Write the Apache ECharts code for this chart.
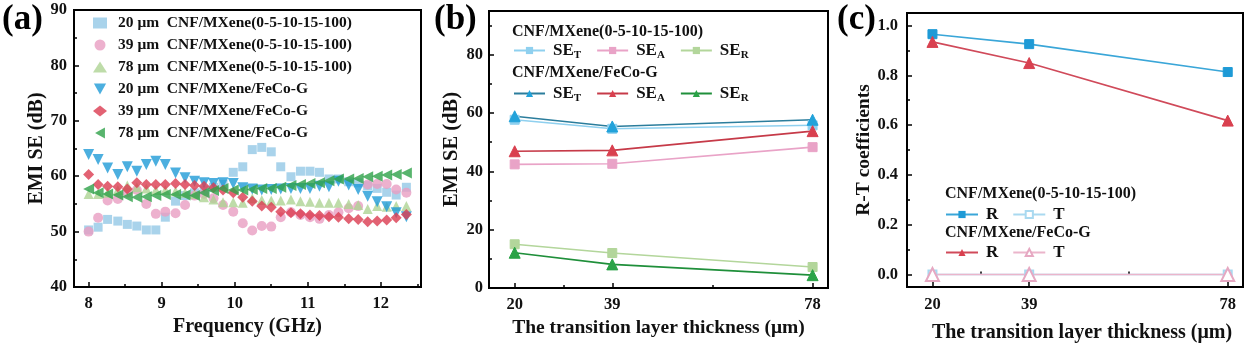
<!DOCTYPE html>
<html>
<head>
<meta charset="utf-8">
<script src="https://cdn.jsdelivr.net/npm/echarts@6/dist/echarts.min.js"></script>
<style>
  html, body { margin: 0; padding: 0; background: #fff; }
  #chart { width: 1256px; height: 352px; }
</style>
</head>
<body>
<div id="chart"></div>
<script>
// ---- data ----
const freq = [8.00, 8.13, 8.26, 8.40, 8.53, 8.66, 8.79, 8.92, 9.05, 9.19, 9.32, 9.45, 9.58, 9.71, 9.84, 9.98, 10.11,
  10.24, 10.37, 10.50, 10.63, 10.77, 10.90, 11.03, 11.16, 11.29, 11.42, 11.56, 11.69, 11.82, 11.95, 12.08, 12.21, 12.35];

const mx20 = [50.3, 50.8, 52.2, 51.9, 51.3, 51.0, 50.3, 50.3, 52.6, 55.5, 56.5, 57.0, 57.5, 58.0, 58.5, 60.7, 61.7,
  64.8, 65.2, 64.4, 61.7, 59.9, 60.9, 60.9, 60.7, 59.5, 59.5, 59.0, 58.8, 58.3, 57.8, 57.1, 56.6, 58.0];
const mx39 = [50.0, 52.5, 55.6, 55.9, 57.0, 57.5, 55.0, 53.2, 53.6, 53.3, 54.8, 56.5, 56.8, 56.0, 54.8, 53.6, 51.5,
  50.2, 51.0, 50.9, 52.6, 53.5, 53.0, 52.6, 52.3, 53.0, 53.5, 54.2, 54.6, 58.5, 58.6, 58.6, 57.6, 57.0];
const mx78 = [56.8, 56.8, 57.0, 57.5, 58.3, 58.0, 57.8, 57.5, 57.5, 57.3, 57.0, 56.8, 56.2, 55.8, 55.3, 55.3, 55.2,
  56.0, 55.7, 55.6, 55.6, 55.8, 55.5, 55.4, 55.2, 55.2, 55.2, 55.0, 54.8, 54.1, 54.6, 54.5, 54.6, 54.6];
const fe20 = [63.9, 63.0, 61.5, 60.3, 61.7, 60.9, 62.1, 62.7, 62.1, 60.6, 59.7, 59.1, 58.8, 58.7, 58.8, 58.7, 57.9,
  57.7, 57.5, 57.6, 57.7, 57.8, 57.8, 57.8, 58.2, 58.1, 59.1, 58.4, 57.6, 56.4, 55.4, 54.5, 53.4, 52.7];
const fe39 = [60.3, 58.5, 58.2, 58.1, 57.7, 58.8, 58.5, 58.5, 58.5, 58.7, 58.5, 58.3, 58.2, 57.9, 57.5, 57.0, 56.2,
  55.5, 54.6, 54.4, 53.6, 53.4, 53.2, 53.0, 52.9, 52.7, 52.6, 52.3, 52.2, 51.8, 51.9, 52.1, 52.5, 53.1];
const fe78 = [57.7, 57.0, 56.8, 56.6, 56.3, 56.2, 56.3, 56.5, 56.7, 56.7, 56.6, 56.5, 57.0, 57.4, 57.8, 57.5, 57.5,
  57.6, 57.8, 57.8, 58.0, 58.3, 58.5, 58.7, 58.8, 59.2, 59.5, 59.5, 59.6, 59.9, 60.0, 60.2, 60.3, 60.6];

const thickness = [20, 39, 78];
const mxSET = [57.7, 54.6, 55.8];
const mxSEA = [42.4, 42.6, 48.3];
const mxSER = [15.0, 12.0, 7.2];
const feSET = [58.9, 55.4, 57.7];
const feSEA = [46.9, 47.2, 53.8];
const feSER = [12.1, 8.1, 4.4];

const mxR = [0.965, 0.925, 0.813];
const mxT = [0.0, 0.0, 0.0];
const feR = [0.934, 0.849, 0.618];
const feT = [0.0, 0.0, 0.0];

const freqTicks = [8, 9, 10, 11, 12];
const freqMinor = [8.5, 9.5, 10.5, 11.5, 12.5];
const thickTicks = [20, 39, 78];
const thickMinor = [29.5, 58.5];
const seTicks = [0, 20, 40, 60, 80];
const seMinor = [10, 30, 50, 70, 90];
const rtTicks = [0, 0.2, 0.4, 0.6, 0.8, 1.0];
const rtMinor = [0.1, 0.3, 0.5, 0.7, 0.9];

// ---- styling helpers ----
const FONT = 'Liberation Serif';
const txt = (size) => ({ fontFamily: FONT, fontWeight: 'bold', fontSize: size, color: '#111' });
const pair = (xs, ys) => xs.map((x, i) => [x, ys[i]]);

const DOWN_TRI = 'path://M0,0L10,0L5,9Z';
const LEFT_TRI = 'path://M9,0L9,10L0,5Z';

function mainAxis(grid, min, max, ticks, margin, extra) {
  return Object.assign({
    gridIndex: grid, type: 'value', min: min, max: max,
    axisLine: { show: true, onZero: false, lineStyle: { color: '#000', width: 2 } },
    axisTick: { show: true, inside: true, length: 5, customValues: ticks, lineStyle: { color: '#000', width: 1.5 } },
    axisLabel: Object.assign({ customValues: ticks, margin: margin }, txt(16.5)),
    splitLine: { show: false }
  }, extra || {});
}
function minorAxis(grid, min, max, ticks, pos) {
  return {
    gridIndex: grid, type: 'value', min: min, max: max, position: pos, offset: 0,
    axisLine: { show: false },
    axisTick: { show: true, inside: true, length: 3, customValues: ticks, lineStyle: { color: '#000', width: 1.5 } },
    axisLabel: { show: false },
    splitLine: { show: false }
  };
}

function scatter(name, data, symbol, color, size) {
  return {
    name: name, type: 'scatter', xAxisIndex: 0, yAxisIndex: 0,
    data: pair(freq, data), symbol: symbol, symbolSize: size || 10,
    itemStyle: { color: color }
  };
}
function lineS(name, xi, yi, data, symbol, lineColor, markColor, size) {
  return {
    name: name, type: 'line', xAxisIndex: xi, yAxisIndex: yi,
    data: pair(thickness, data), symbol: symbol, symbolSize: size || 9,
    lineStyle: { color: lineColor, width: 1.6 },
    itemStyle: { color: markColor, borderColor: markColor },
    emphasis: { disabled: true }
  };
}

const subRich = {
  m: { fontFamily: FONT, fontWeight: 'bold', fontSize: 17, color: '#111', lineHeight: 20 },
  s: { fontFamily: FONT, fontWeight: 'bold', fontSize: 11, color: '#111', lineHeight: 11, verticalAlign: 'bottom' }
};
const seFormatter = (name) => '{m|SE}{s|' + name.slice(-1) + '}';
const rtFormatter = (name) => name.slice(-1);
const heading = (x, y, s) => ({ type: 'text', left: x, top: y,
  style: { text: s, font: 'bold 16px "Liberation Serif"', fill: '#111' } });
const panelTag = (x, s) => ({ type: 'text', left: x, top: 2,
  style: { text: s, font: 'bold 35px "Liberation Serif"', fill: '#000' } });

const option = {
  animation: false,
  backgroundColor: '#fff',
  grid: [
    { left: 74, top: 10, right: 835, bottom: 65, show: true, borderColor: '#000', borderWidth: 2, outerBoundsMode: 'none' },
    { left: 489, top: 11, right: 428, bottom: 64, show: true, borderColor: '#000', borderWidth: 2, outerBoundsMode: 'none' },
    { left: 907, top: 13, right: 13, bottom: 65, show: true, borderColor: '#000', borderWidth: 2, outerBoundsMode: 'none' }
  ],
  xAxis: [
    mainAxis(0, 7.8, 12.55, freqTicks, 8, { name: 'Frequency (GHz)', nameLocation: 'middle', nameGap: 24, nameTextStyle: txt(20) }),
    mainAxis(1, 15, 81, thickTicks, 8, { name: 'The transition layer thickness (\u03bcm)', nameLocation: 'middle', nameGap: 28,
      nameTextStyle: txt(19.5) }),
    mainAxis(2, 15, 81, thickTicks, 9, { name: 'The transition layer thickness (\u03bcm)', nameLocation: 'middle', nameGap: 36,
      nameTextStyle: Object.assign({ padding: [0, 0, 0, 14] }, txt(20)) }),
    minorAxis(0, 7.8, 12.55, freqMinor, 'bottom'),
    minorAxis(1, 15, 81, thickMinor, 'bottom'),
    minorAxis(2, 15, 81, thickMinor, 'bottom')
  ],
  yAxis: [
    mainAxis(0, 40, 90, [40, 50, 60, 70, 80, 90], 7, { name: 'EMI SE (dB)', nameLocation: 'middle', nameGap: 27, nameTextStyle: txt(20) }),
    mainAxis(1, 0, 95, seTicks, 6, { name: 'EMI SE (dB)', nameLocation: 'middle', nameGap: 24, nameTextStyle: txt(20.5) }),
    mainAxis(2, -0.05, 1.05, rtTicks, 9, { name: 'R-T coefficients', nameLocation: 'middle', nameGap: 30, nameTextStyle: txt(19.5),
      axisLabel: Object.assign({ customValues: rtTicks, margin: 9, formatter: (v) => v.toFixed(1) }, txt(16.5)) }),
    minorAxis(0, 40, 90, [45, 55, 65, 75, 85], 'left'),
    minorAxis(1, 0, 95, seMinor, 'left'),
    minorAxis(2, -0.05, 1.05, rtMinor, 'left')
  ],
  legend: [
    {
      orient: 'vertical', left: 88, top: 10, itemGap: 6, itemWidth: 14, itemHeight: 11,
      textStyle: Object.assign({ padding: [0, 0, 0, 6], lineHeight: 15 }, txt(15.5)),
      selectedMode: false,
      data: ['20 \u03bcm  CNF/MXene(0-5-10-15-100)', '39 \u03bcm  CNF/MXene(0-5-10-15-100)', '78 \u03bcm  CNF/MXene(0-5-10-15-100)',
        '20 \u03bcm  CNF/MXene/FeCo-G', '39 \u03bcm  CNF/MXene/FeCo-G', '78 \u03bcm  CNF/MXene/FeCo-G']
    },
    {
      orient: 'horizontal', left: 508, top: 37, itemGap: 15, itemWidth: 31, itemHeight: 9,
      formatter: seFormatter, textStyle: Object.assign({ rich: subRich, padding: [0, 0, 0, 3] }, txt(17)), selectedMode: false,
      data: ['MX SE_T', 'MX SE_A', 'MX SE_R']
    },
    {
      orient: 'horizontal', left: 508, top: 80, itemGap: 15, itemWidth: 31, itemHeight: 9,
      formatter: seFormatter, textStyle: Object.assign({ rich: subRich, padding: [0, 0, 0, 3] }, txt(17)), selectedMode: false,
      data: ['FE SE_T', 'FE SE_A', 'FE SE_R']
    },
    {
      orient: 'horizontal', left: 940, top: 201, itemGap: 14, itemWidth: 32, itemHeight: 9,
      formatter: rtFormatter, textStyle: Object.assign({ padding: [0, 0, 0, 3] }, txt(17)), selectedMode: false,
      data: ['MX R', 'MX T']
    },
    {
      orient: 'horizontal', left: 940, top: 239, itemGap: 14, itemWidth: 32, itemHeight: 9,
      formatter: rtFormatter, textStyle: Object.assign({ padding: [0, 0, 0, 3] }, txt(17)), selectedMode: false,
      data: ['FE R', 'FE T']
    }
  ],
  graphic: [
    panelTag(2, '(a)'), panelTag(434, '(b)'), panelTag(837, '(c)'),
    heading(512, 24, 'CNF/MXene(0-5-10-15-100)'),
    heading(512, 65, 'CNF/MXene/FeCo-G'),
    heading(945, 186, 'CNF/MXene(0-5-10-15-100)'),
    heading(945, 225, 'CNF/MXene/FeCo-G')
  ],
  series: [
    scatter('20 \u03bcm  CNF/MXene(0-5-10-15-100)', mx20, 'rect', '#93c8e6', 9),
    scatter('39 \u03bcm  CNF/MXene(0-5-10-15-100)', mx39, 'circle', '#e99dc2', 10),
    scatter('78 \u03bcm  CNF/MXene(0-5-10-15-100)', mx78, 'triangle', '#aed393', 10),
    scatter('20 \u03bcm  CNF/MXene/FeCo-G', fe20, DOWN_TRI, '#1f9bd7', 11),
    scatter('39 \u03bcm  CNF/MXene/FeCo-G', fe39, 'diamond', '#db3b50', 11),
    scatter('78 \u03bcm  CNF/MXene/FeCo-G', fe78, LEFT_TRI, '#2ea148', 11),

    lineS('MX SE_T', 1, 1, mxSET, 'rect', '#8fd0ef', '#8fd0ef'),
    lineS('MX SE_A', 1, 1, mxSEA, 'rect', '#e9a3c7', '#e9a3c7'),
    lineS('MX SE_R', 1, 1, mxSER, 'rect', '#b3d69b', '#b3d69b'),
    lineS('FE SE_T', 1, 1, feSET, 'triangle', '#2b7d9c', '#22a2da', 11),
    lineS('FE SE_A', 1, 1, feSEA, 'triangle', '#c63a48', '#d9404f', 11),
    lineS('FE SE_R', 1, 1, feSER, 'triangle', '#1f8f3a', '#2aa347', 11),

    lineS('MX T', 2, 2, mxT, 'emptyRect', '#a9d9f0', '#a9d9f0', 8),
    lineS('FE T', 2, 2, feT, 'emptyTriangle', '#ebb5cb', '#e6a8c2', 13),
    lineS('MX R', 2, 2, mxR, 'rect', '#3aa6d8', '#1e9ad6'),
    lineS('FE R', 2, 2, feR, 'triangle', '#d04a5a', '#d9404f', 11)
  ]
};

const chart = echarts.init(document.getElementById('chart'));
chart.setOption(option);
</script>
</body>
</html>
